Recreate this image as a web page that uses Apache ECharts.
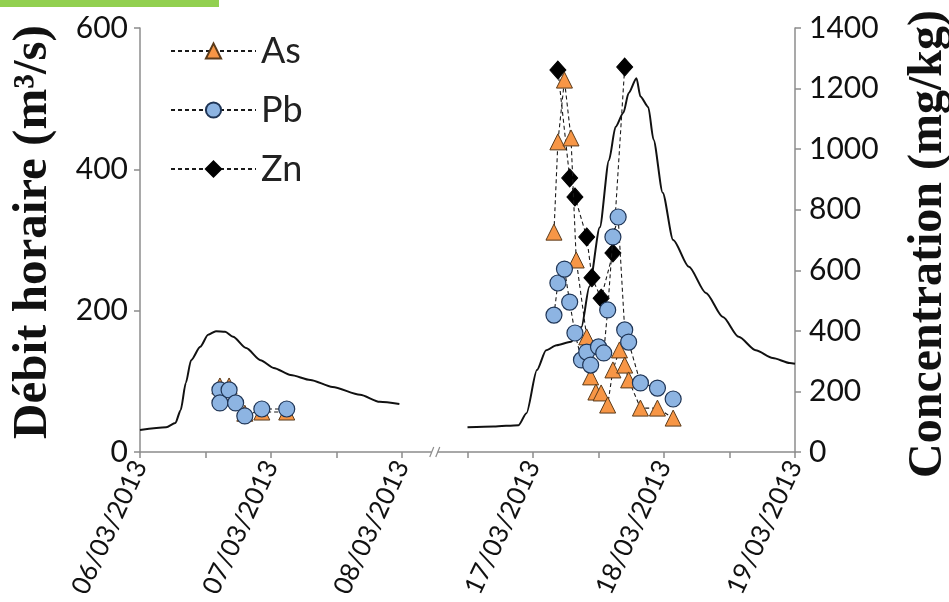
<!DOCTYPE html>
<html>
<head>
<meta charset="utf-8">
<script src="https://cdn.jsdelivr.net/npm/echarts@6/dist/echarts.min.js"></script>
<style>
html,body{margin:0;padding:0;background:#fff;}
#c{width:949px;height:602px;}
</style>
</head>
<body>
<div id="c"></div>
<script>
// ---- data (x = day of March 2013, decimal) ----
var xTickLabels = ['06/03/2013','','07/03/2013','','08/03/2013','','17/03/2013','','18/03/2013','','19/03/2013'];
var leftTicks = [0,200,400,600];
var rightTicks = [0,200,400,600,800,1000,1200,1400];

// Débit horaire (m3/s) - event 1
var flowDays1 = [6.00,6.20,6.27,6.31,6.35,6.39,6.46,6.52,6.58,6.65,6.71,6.81,6.92,7.02,7.15,7.30,7.47,7.68,7.83,7.98];
var flow1     = [31,35,41,59,98,130,149,166,171,170,163,147,130,119,109,102,92,81,71,68];
// Débit horaire (m3/s) - event 2
var flowDays2 = [16.50,16.70,16.89,16.95,17.03,17.10,17.18,17.29,17.37,17.43,17.51,17.58,17.63,17.69,17.73,17.79,17.82,17.88,17.92,17.99,18.07,18.19,18.32,18.45,18.57,18.70,18.83,18.96,19.00];
var flow2     = [35,36,38,55,116,144,151,156,177,234,318,413,460,480,508,529,503,488,442,367,300,262,225,191,163,144,133,126,125];

// Concentrations (mg/kg)
var asDays1 = [6.61,6.68,6.80,6.93,7.12];
var as1     = [218,218,128,132,132];
var pbDays1 = [6.61,6.61,6.68,6.73,6.80,6.93,7.12];
var pb1     = [205,162,205,162,119,142,142];

var asDays2 = [17.16,17.19,17.24,17.29,17.33,17.41,17.44,17.48,17.52,17.57,17.61,17.66,17.70,17.73,17.82,17.95,18.07];
var as2     = [726,1024,1228,1037,634,380,248,198,195,155,271,337,287,238,145,145,112];
var pbDays2 = [17.16,17.19,17.24,17.28,17.32,17.37,17.41,17.44,17.50,17.54,17.57,17.61,17.65,17.70,17.73,17.82,17.95,18.07];
var pb2     = [452,558,604,495,393,304,330,287,347,327,469,710,776,403,363,228,211,175];
var znDays2 = [17.19,17.28,17.32,17.41,17.45,17.52,17.61,17.70];
var zn2     = [1261,905,842,710,575,508,657,1271];

// ---- mapping of dates onto the broken axis ----
function mapDay(d){ return d < 12 ? d - 6 : d - 14; }
function pts(days, vals){ return days.map(function(d,i){ return [mapDay(d), vals[i]]; }); }

var chart = echarts.init(document.getElementById('c'));

var flowStyle = {type:'line', yAxisIndex:0, symbol:'none', smooth:0.25, smoothMonotone:'x',
  lineStyle:{color:'#111', width:2}, z:1, silent:true};
var dashLine = {color:'#1a1a1a', width:1.1, type:[4,3]};
var asStyle = {type:'line', name:'As', yAxisIndex:1, symbol:'triangle', symbolSize:16, z:3,
  itemStyle:{color:'#F79646', borderColor:'#5a3a1a', borderWidth:1}, lineStyle:dashLine};
var pbStyle = {type:'line', name:'Pb', yAxisIndex:1, symbol:'circle', symbolSize:16, z:4,
  itemStyle:{color:'#8DB4E2', borderColor:'#1F3556', borderWidth:1.2}, lineStyle:dashLine};
var znStyle = {type:'line', name:'Zn', yAxisIndex:1, symbol:'diamond', symbolSize:[16,18], z:2,
  itemStyle:{color:'#000', borderColor:'#000', borderWidth:1}, lineStyle:dashLine};

function withData(base, data){ var o = {}; for (var k in base) o[k] = base[k]; o.data = data; return o; }

var axisLineStyle = {color:'#8c8c8c', width:1.5};
var tickFont = {fontFamily:'Lato', fontSize:30, color:'#111', formatter:function(v){ return String(v); }};

var option = {
  animation:false,
  backgroundColor:'#fff',
  grid:{left:140, right:154, top:28, bottom:150},
  legend:{data:['As','Pb','Zn'], orient:'vertical', left:165, top:28, itemWidth:85, itemHeight:19, itemGap:23,
    textStyle:{fontFamily:'Lato', fontSize:36, color:'#222'}},
  xAxis:{type:'value', min:0, max:5, interval:0.5,
    axisLine:{onZero:false, lineStyle:axisLineStyle},
    axisTick:{show:true, length:6, lineStyle:axisLineStyle},
    splitLine:{show:false},
    axisLabel:{rotate:65, margin:10, fontFamily:'Lato', fontSize:26, color:'#111',
      formatter:function(v){ var i = Math.round(v*2); return xTickLabels[i] || ''; }}},
  yAxis:[
    {type:'value', min:leftTicks[0], max:leftTicks[leftTicks.length-1], interval:200, position:'left',
      axisLine:{show:true, lineStyle:axisLineStyle}, axisTick:{show:true, length:6, lineStyle:axisLineStyle},
      splitLine:{show:false}, axisLabel:Object.assign({margin:12}, tickFont)},
    {type:'value', min:rightTicks[0], max:rightTicks[rightTicks.length-1], interval:200, position:'right',
      axisLine:{show:true, lineStyle:axisLineStyle}, axisTick:{show:true, length:6, lineStyle:axisLineStyle},
      splitLine:{show:false}, axisLabel:Object.assign({margin:14}, tickFont)}
  ],
  series:[
    withData(flowStyle, pts(flowDays1, flow1)),
    withData(flowStyle, pts(flowDays2, flow2)),
    withData(znStyle, pts(znDays2, zn2)),
    withData(asStyle, pts(asDays1, as1)),
    withData(asStyle, pts(asDays2, as2)),
    withData(pbStyle, pts(pbDays1, pb1)),
    withData(pbStyle, pts(pbDays2, pb2))
  ]
};
chart.setOption(option);

// decorations: green band, axis titles, axis break mark
var bx = chart.convertToPixel({xAxisIndex:0}, 2.25);
var by = chart.convertToPixel({yAxisIndex:0}, 0);
chart.setOption({graphic:[
  {type:'rect', left:0, top:0, shape:{width:219, height:7}, style:{fill:'#92D050'}, z:10},
  {type:'text', x:33, y:232, rotation:Math.PI/2,
    style:{text:'Débit horaire (m³/s)', font:'bold 49px "Liberation Serif"', fill:'#111', align:'center', verticalAlign:'middle'}},
  {type:'text', x:929, y:244, rotation:Math.PI/2,
    style:{text:'Concentration (mg/kg)', font:'bold 48px "Liberation Serif"', fill:'#111', align:'center', verticalAlign:'middle'}},
  {type:'rect', shape:{x:bx-3, y:by-5, width:6, height:10}, style:{fill:'#fff'}, z:20},
  {type:'line', shape:{x1:bx-5, y1:by+5, x2:bx-1, y2:by-5}, style:{stroke:'#8c8c8c', lineWidth:1.2}, z:21},
  {type:'line', shape:{x1:bx+1, y1:by+5, x2:bx+5, y2:by-5}, style:{stroke:'#8c8c8c', lineWidth:1.2}, z:21}
]});
</script>
</body>
</html>
